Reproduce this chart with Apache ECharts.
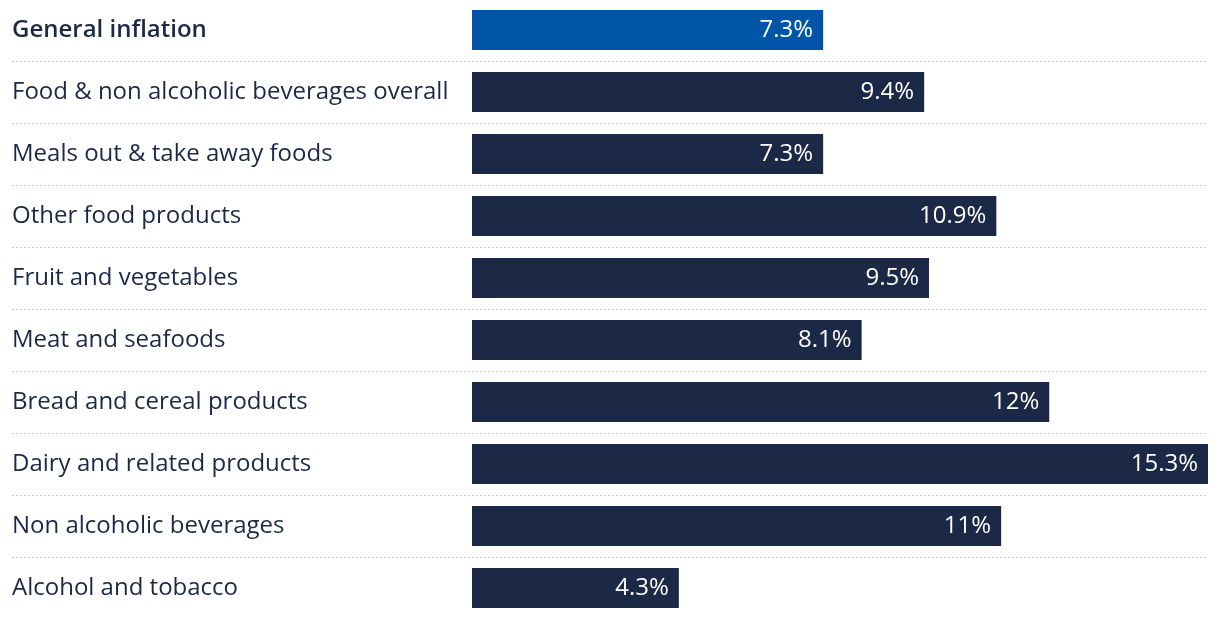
<!DOCTYPE html>
<html><head><meta charset="utf-8">
<script src="https://cdn.jsdelivr.net/npm/echarts@6/dist/echarts.min.js"></script>
<style>html,body{margin:0;padding:0;background:#fff}#c{width:1220px;height:618px}</style>
</head><body><div id="c"></div>
<script>
const categories = ["General inflation","Food & non alcoholic beverages overall","Meals out & take away foods","Other food products","Fruit and vegetables","Meat and seafoods","Bread and cereal products","Dairy and related products","Non alcoholic beverages","Alcohol and tobacco"];
const values = [7.3,9.4,7.3,10.9,9.5,8.1,12,15.3,11,4.3];
const highlight = "General inflation";

const FONT = 'Open Sans';
const FS = 24;
const chart = echarts.init(document.getElementById('c'));
chart.setOption({
  animation:false,
  grid:[
    {left:472,right:12,top:-1,bottom:-1,outerBoundsMode:'none',containLabel:false},
    {left:12,right:12,top:-1,bottom:-1,outerBoundsMode:'none',containLabel:false}
  ],
  xAxis:[
    {gridIndex:0,type:'value',min:0,max:15.3,show:false},
    {gridIndex:1,type:'value',min:0,max:1,show:false}
  ],
  yAxis:[
    {gridIndex:0,type:'category',inverse:true,data:categories,
     axisLine:{show:false},axisTick:{show:false},splitLine:{show:false},
     axisLabel:{align:'left',margin:460,fontFamily:FONT,fontSize:FS,color:'#1b2846',
       formatter:(v)=> v===highlight?'{b|'+v+'}':v,
       rich:{b:{fontWeight:600,fontFamily:FONT,fontSize:FS,color:'#1b2846'}}}},
    {gridIndex:1,type:'category',inverse:true,data:categories,
     axisLine:{show:false},axisTick:{show:false},axisLabel:{show:false},
     splitLine:{show:true,lineStyle:{color:'#cfcfcf',width:1,type:[2,2]}}}
  ],
  series:[{
    type:'bar',xAxisIndex:0,yAxisIndex:0,barWidth:40,
    data:values.map((v,i)=>({value:v,itemStyle:{color:categories[i]===highlight?'#0055a8':'#1b2846'}})),
    label:{show:true,position:'insideRight',distance:10,color:'#fff',fontFamily:FONT,fontSize:FS,
      formatter:(p)=>p.value+'%'}
  }]
});
</script></body></html>
